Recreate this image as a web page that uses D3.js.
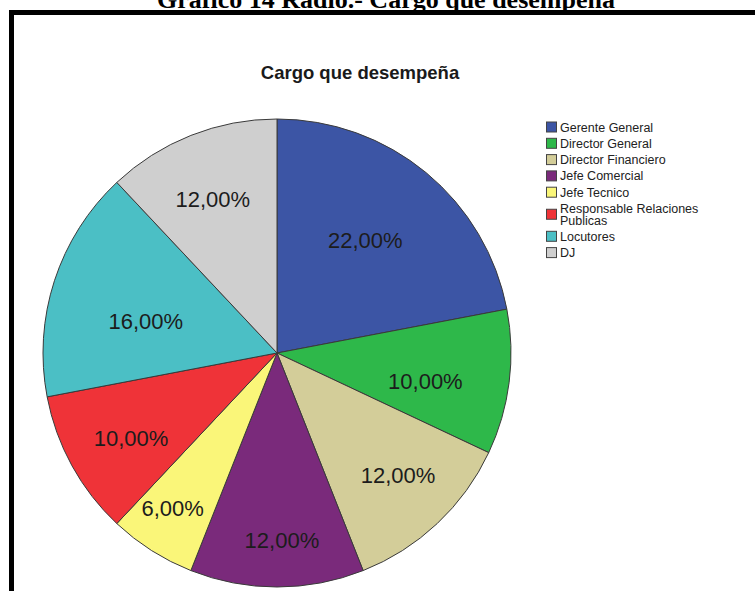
<!DOCTYPE html>
<html>
<head>
<meta charset="utf-8">
<script src="https://cdn.jsdelivr.net/npm/d3@7"></script>
<style>
  body { margin: 0; background: #fff; }
  svg { display: block; }
</style>
</head>
<body>
<div id="chart"></div>
<script>
// data
const categories = ['Gerente General', 'Director General', 'Director Financiero', 'Jefe Comercial',
    'Jefe Tecnico', 'Responsable Relaciones Publicas', 'Locutores', 'DJ'];
const percents = [22, 10, 12, 12, 6, 10, 16, 12];
const colors = ['#3c55a5', '#2eb84a', '#d3cd99', '#7a2a7b', '#faf679', '#ef3338', '#4bbfc5', '#cfcfcf'];

// SPSS does not put labels on the centroid: radius and angle nudge (deg) per slice
const labelRadius = [143, 151, 172, 187, 187, 169, 135, 167];
const labelNudge = [-1.5, 3.5, -1.5, -1.5, 1.5, -1.5, -4.5, -1];

const width = 755, height = 591;
const cx = 277, cy = 353, radius = 234;

const svg = d3.select('#chart')
    .append('svg')
    .attr('width', width)
    .attr('height', height);

// outer caption, cut off at the top
svg.append('text')
    .attr('x', 386)
    .attr('y', 7.5)
    .attr('text-anchor', 'middle')
    .style('font-family', '"Liberation Serif", "Times New Roman", serif')
    .style('font-weight', 'bold')
    .style('font-size', '26px')
    .text('Gráfico 14 Radio.- Cargo que desempeña');

// black frame
svg.append('rect')
    .attr('x', 11.5)
    .attr('y', 12.5)
    .attr('width', 900)
    .attr('height', 800)
    .attr('fill', 'none')
    .attr('stroke', '#000')
    .attr('stroke-width', 5);

svg.append('text')
    .attr('x', 360)
    .attr('y', 79)
    .attr('text-anchor', 'middle')
    .style('font-family', '"Liberation Sans", Arial, sans-serif')
    .style('font-weight', 'bold')
    .style('font-size', '18.5px')
    .attr('fill', '#1a1a1a')
    .text('Cargo que desempeña');

const pie = d3.pie().sort(null).value(d => d);
const arcs = pie(percents);

const arc = d3.arc().innerRadius(0).outerRadius(radius);

const g = svg.append('g')
    .attr('transform', `translate(${cx},${cy})`);

g.selectAll('path')
    .data(arcs)
    .join('path')
    .attr('d', arc)
    .attr('fill', (d, i) => colors[i])
    .attr('stroke', '#3a3a3a')
    .attr('stroke-width', 1);

const fmt = v => d3.format('.2f')(v).replace('.', ',') + '%';

g.selectAll('text.lbl')
    .data(arcs)
    .join('text')
    .attr('class', 'lbl')
    .attr('transform', (d, i) => {
        const r = labelRadius[i];
        const a = (d.startAngle + d.endAngle) / 2 + labelNudge[i] * Math.PI / 180;
        return `translate(${r * Math.sin(a)},${-r * Math.cos(a)})`;
    })
    .attr('text-anchor', 'middle')
    .attr('dy', '0.36em')
    .style('font-family', '"Liberation Sans", Arial, sans-serif')
    .style('font-size', '22px')
    .attr('fill', '#1c1c1c')
    .text(d => fmt(d.data));

// legend
function wrap(name) {
    if (name.length <= 22) return [name];
    const words = name.split(' ');
    const lines = [];
    let cur = '';
    words.forEach(w => {
        const next = cur ? cur + ' ' + w : w;
        if (next.length > 22) { lines.push(cur); cur = w; } else { cur = next; }
    });
    lines.push(cur);
    return lines;
}

const rowH = 16.3, lineH = 11.5;
let cursor = 127 - rowH / 2;
const legendRows = categories.map((name, i) => {
    const lines = wrap(name);
    const h = rowH + (lines.length - 1) * lineH;
    const row = { name, lines, color: colors[i], cy: cursor + h / 2 };
    cursor += h;
    return row;
});

const legend = svg.append('g').attr('class', 'legend');

const item = legend.selectAll('g')
    .data(legendRows)
    .join('g')
    .attr('transform', d => `translate(546,${d.cy})`);

item.append('rect')
    .attr('x', 0.5)
    .attr('y', -5)
    .attr('width', 10)
    .attr('height', 10)
    .attr('fill', d => d.color)
    .attr('stroke', '#444')
    .attr('stroke-width', 1);

item.append('text')
    .attr('x', 14)
    .style('font-family', '"Liberation Sans", Arial, sans-serif')
    .style('font-size', '12.5px')
    .attr('fill', '#222')
    .selectAll('tspan')
    .data(d => d.lines.map((l, k) => ({ l, k, n: d.lines.length })))
    .join('tspan')
    .attr('x', 14)
    .attr('y', t => (t.k - (t.n - 1) / 2) * lineH + 4.5)
    .text(t => t.l);
</script>
</body>
</html>
